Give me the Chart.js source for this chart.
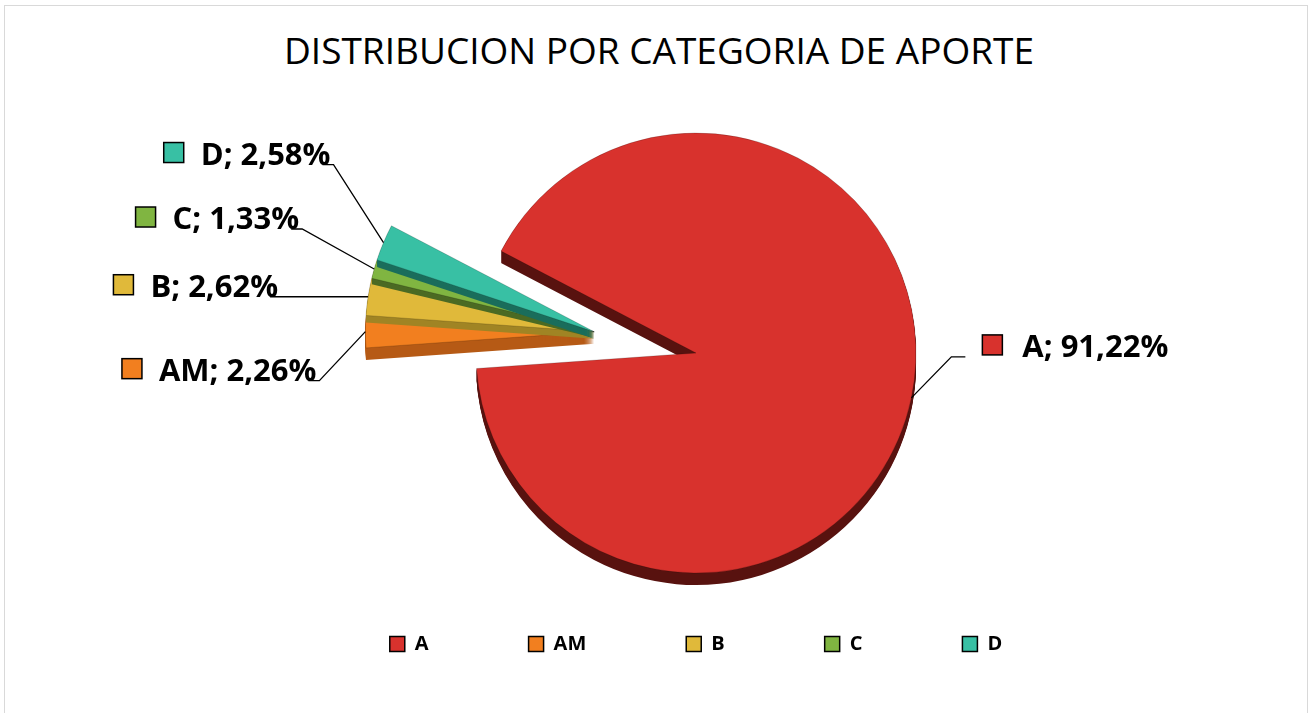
<!DOCTYPE html>
<html lang="es">
<head>
<meta charset="UTF-8">
<title>Distribucion por categoria de aporte</title>
<script src="https://cdn.jsdelivr.net/npm/chart.js@4.4.1/dist/chart.umd.min.js"></script>
<style>
  html, body { margin: 0; padding: 0; background: #fff; overflow: hidden; }
  .marco { position: relative; width: 1313px; height: 713px; }
  .borde { position: absolute; left: 4px; top: 5px; width: 1302px; height: 720px; border: 1px solid #d9d9d9; }
  .titulo { position: absolute; left: 0; top: 32px; width: 1318px; text-align: center;
            font-family: "Open Sans"; font-size: 37px; line-height: 36px; color: #000; }
  canvas { position: absolute; left: 0; top: 0; }
</style>
</head>
<body>
<div class="marco">
  <div class="borde"></div>
  <div class="titulo">DISTRIBUCION POR CATEGORIA DE APORTE</div>
  <canvas id="grafico" width="1313" height="713"></canvas>
</div>
<script>
// Datos del grafico
const categorias = ['A', 'AM', 'B', 'C', 'D'];
const porcentajes = [91.22, 2.26, 2.62, 1.33, 2.58];

// Colores de cada categoria (cara de arriba y costado oscuro)
const colores = ['#d8322d', '#f27f1f', '#e0b93a', '#80b541', '#38c0a4'];
const coloresLado = ['#58120f', '#b65a15', '#a08424', '#4b6a23', '#1a6d5b'];

// Texto de las etiquetas, tipo "A; 91,22%"
const textos = categorias.map((c, i) => c + '; ' + porcentajes[i].toFixed(2).replace('.', ',') + '%');

// Separa juntas las categorias chicas (todas menos la primera), como el "explotado" de Excel
const explotarGrupo = {
    id: 'explotarGrupo',
    afterDatasetsUpdate(chart, args, opts) {
        const arcos = chart.getDatasetMeta(0).data;
        const grupo = arcos.slice(1);
        const medio = (grupo[0].startAngle + grupo[grupo.length - 1].endAngle) / 2;
        const dx = Math.cos(medio) * opts.distancia;
        const dy = Math.sin(medio) * opts.distancia;
        grupo.forEach(a => {
            a.x += dx;
            a.y += dy;
            // en Excel el grupo separado se ve un poco mas grande (perspectiva)
            a.outerRadius *= opts.escala;
        });
    }
};

// Costado oscuro para el efecto 3D: cada porcion se dibuja con su costado
// y despues su cara, en orden, asi se ve el borde de cada una
const profundidad = {
    id: 'profundidad',
    beforeDatasetDraw(chart, args, opts) {
        const ctx = chart.ctx;
        const arcos = args.meta.data;
        arcos.forEach((a, i) => {
            ctx.save();
            ctx.fillStyle = opts.colores[i];
            for (let d = 1; d <= opts.alto[i]; d++) {
                ctx.beginPath();
                ctx.moveTo(a.x, a.y + d);
                ctx.arc(a.x, a.y + d, a.outerRadius, a.startAngle, a.endAngle);
                ctx.closePath();
                ctx.fill();
            }
            ctx.restore();
            a.draw(ctx, chart.chartArea);
        });
        return false;
    }
};

// Etiquetas con cuadradito de color y linea guia
const etiquetasDatos = {
    id: 'etiquetasDatos',
    afterDatasetsDraw(chart, args, opts) {
        const ctx = chart.ctx;
        const arcos = chart.getDatasetMeta(0).data;
        ctx.save();
        ctx.font = opts.fuente;
        ctx.textBaseline = 'alphabetic';
        ctx.textAlign = 'left';
        arcos.forEach((a, i) => {
            const medio = (a.startAngle + a.endAngle) / 2;
            const ax = a.x + Math.cos(medio) * a.outerRadius;
            const ay = a.y + Math.sin(medio) * a.outerRadius;
            const cx = ax + opts.codos[i][0];
            const cy = ay + opts.codos[i][1];
            const izquierda = cx < a.x;
            const ancho = ctx.measureText(textos[i]).width;

            ctx.strokeStyle = '#000';
            ctx.lineWidth = 1.3;
            ctx.beginPath();
            ctx.moveTo(ax, ay);
            ctx.lineTo(cx, cy);
            ctx.lineTo(izquierda ? cx - 11 : cx + 14, cy);
            ctx.stroke();

            let xTexto, xMarca;
            if (izquierda) {
                xTexto = cx - 3 - ancho;
                xMarca = xTexto - 17 - 20;
            } else {
                xMarca = cx + 31;
                xTexto = xMarca + 20 + 20;
            }
            const yMedio = cy - 11;

            ctx.fillStyle = colores[i];
            ctx.fillRect(xMarca, yMedio - 11, 20, 20);
            ctx.lineWidth = 1.5;
            ctx.strokeRect(xMarca, yMedio - 11, 20, 20);

            ctx.fillStyle = '#000';
            ctx.fillText(textos[i], xTexto, yMedio + 11);
        });
        ctx.restore();
    }
};

const grafico = document.getElementById('grafico');
new Chart(grafico, {
    type: 'pie',
    data: {
        labels: categorias,
        datasets: [{
            data: porcentajes,
            backgroundColor: colores,
            borderColor: 'rgba(0,0,0,0.18)',
            borderWidth: 1,
            radius: 220,
            clip: false
        }]
    },
    options: {
        responsive: false,
        animation: false,
        events: [],
        rotation: 297.6,
        layout: {
            padding: { left: 79, right: 0, top: 172, bottom: 49 }
        },
        plugins: {
            tooltip: { enabled: false },
            legend: {
                position: 'bottom',
                labels: {
                    boxWidth: 15,
                    boxHeight: 15,
                    padding: 100,
                    color: '#000',
                    font: { family: 'Open Sans', size: 20, weight: 'bold' },
                    generateLabels(chart) {
                        const items = Chart.overrides.pie.plugins.legend.labels.generateLabels(chart);
                        items.forEach(it => {
                            it.strokeStyle = '#000';
                            it.lineWidth = 1.5;
                        });
                        return items;
                    }
                }
            },
            explotarGrupo: { distancia: 104, escala: 1.04 },
            profundidad: { alto: [12, 12, 7, 6, 7], colores: coloresLado },
            etiquetasDatos: {
                fuente: 'bold 31px "Open Sans"',
                codos: [[40, -41], [-46, 49], [-87, 0], [-72, -40], [-50, -78]]
            }
        }
    },
    plugins: [explotarGrupo, profundidad, etiquetasDatos]
});
</script>
</body>
</html>
